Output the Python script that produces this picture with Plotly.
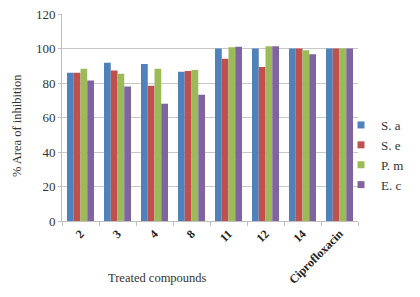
import plotly.graph_objects as go

categories = ["2", "3", "4", "8", "11", "12", "14", "Ciprofloxacin"]
s_a = [86, 91.8, 91, 86.5, 100, 100, 100, 100]
s_e = [86, 87.3, 78.4, 87, 94, 89.3, 100, 100]
p_m = [88.3, 85.4, 88.3, 87.5, 100.7, 101.3, 99, 100]
e_c = [81.5, 77.9, 68, 73.2, 101, 101.3, 96.6, 100]

series = [("S. a", s_a, "#4F81BD"), ("S. e", s_e, "#C0504D"),
          ("P. m", p_m, "#9BBB59"), ("E. c", e_c, "#8064A2")]

fig = go.Figure()
for name, vals, col in series:
    fig.add_trace(go.Bar(x=categories, y=vals, name=name, marker_color=col,
                         marker_line_width=0, showlegend=False))
# legend entries (small square keys)
for name, vals, col in series:
    fig.add_trace(go.Scatter(x=[None], y=[None], mode="markers", name=name,
                             marker=dict(symbol="square", size=7, color=col)))

font = "Liberation Serif, Times New Roman, serif"
# page body has an 8px margin, so the figure is 8px smaller and margins shifted
fig.update_layout(
    width=412, height=289,
    margin=dict(l=54, r=62, t=6, b=76, autoexpand=False),
    paper_bgcolor="white", plot_bgcolor="white",
    barmode="group", bargap=0.27, bargroupgap=0,
    font=dict(family=font, size=12, color="#333333"),
    legend=dict(x=(341-62)/296, y=(221-110)/207, xanchor="left", yanchor="top",
                bgcolor="rgba(0,0,0,0)",
                font=dict(family=font, size=13, color="#333333"),
                itemwidth=30, tracegroupgap=0),
    showlegend=True,
    annotations=[
        dict(text="% Area of inhibition", xref="paper", yref="paper",
             x=-(62-17)/296, y=(221-126)/207, textangle=-90,
             showarrow=False, xanchor="center", yanchor="middle",
             font=dict(family=font, size=12.5, color="#333333")),
        dict(text="Treated compounds", xref="paper", yref="paper",
             x=(157-62)/296, y=-(278-221)/207, showarrow=False,
             xanchor="center", yanchor="middle",
             font=dict(family=font, size=12.5, color="#333333")),
    ],
)
fig.update_yaxes(range=[0, 120], dtick=20, showgrid=True, gridcolor="#C8C8C8",
                 showline=True, linecolor="#BFBFBF", ticks="outside", ticklen=3,
                 tickcolor="#BFBFBF", automargin=False, ticklabeloverflow="allow",
                 tickfont=dict(family=font, size=13), zeroline=False)
fig.update_xaxes(showline=True, linecolor="#BFBFBF", ticks="outside", tickson="boundaries",
                 ticklen=4, tickcolor="#BFBFBF", tickangle=-45, automargin=False,
                 tickfont=dict(family=font, size=12, color="#222222", weight="bold"))

fig.write_html("out.html")
